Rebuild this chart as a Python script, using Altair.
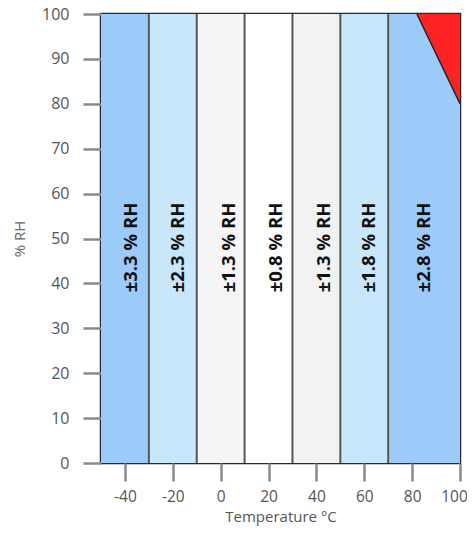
import altair as alt
import pandas as pd

# Accuracy bands (temperature range, °C) and their RH accuracy labels
band_start = [-50, -30, -10, 10, 30, 50, 70]
band_end = [-30, -10, 10, 30, 50, 70, 100]
band_label = ["±3.3 % RH", "±2.3 % RH", "±1.3 % RH", "±0.8 % RH", "±1.3 % RH", "±1.8 % RH", "±2.8 % RH"]
band_color = ["#9ccbfa", "#c9e7fb", "#f5f5f5", "#ffffff", "#f2f2f2", "#c9e7fb", "#9ccbfa"]
label_temp = [-37.5, -18, 3.5, 23, 43, 62, 85]
label_rh = [48, 48, 48, 48, 48, 48, 48]

# Out-of-spec corner (red triangle)
red_temp = [82, 100]
red_rh = [100, 80]

x_ticks = [-40, -20, 0, 20, 40, 60, 80, 100]
y_ticks = [0, 10, 20, 30, 40, 50, 60, 70, 80, 90, 100]

bands = pd.DataFrame({
    "t0": band_start, "t1": band_end, "label": band_label,
    "color": band_color, "lt": label_temp, "lr": label_rh,
    "rh0": [0] * 7, "rh1": [100] * 7,
})
seps = pd.DataFrame({"t": band_start[1:], "rh0": [0] * 6, "rh1": [100] * 6})
red = pd.DataFrame({"t": red_temp, "rh": red_rh, "top": [100, 100]})

xs = alt.Scale(domain=[-50, 100], nice=False, zero=False)
ys = alt.Scale(domain=[0, 100], nice=False, zero=False)

font = "Open Sans"

rects = alt.Chart(bands).mark_rect(stroke=None).encode(
    x=alt.X("t0:Q", scale=xs, axis=alt.Axis(
        values=x_ticks, title="Temperature °C", grid=False, domain=False,
        labelExpr="toString(datum.value)",
        labelOffset=alt.condition("datum.value == 100", alt.value(-6), alt.value(0)),
        tickSize=18, tickWidth=2.5, tickColor="#8a8a8a",
        labelPadding=8, labelFontSize=15.5, labelColor="#555555", labelFont=font,
        titleFontSize=15, titleFont=font, titleColor="#555555",
        titleFontWeight="normal", titlePadding=5, labelFlush=False)),
    x2="t1:Q",
    y=alt.Y("rh0:Q", scale=ys, axis=alt.Axis(
        values=y_ticks, title="% RH", grid=False, domain=False,
        tickSize=18, tickWidth=2.5, tickColor="#8a8a8a",
        labelPadding=14, labelFontSize=16, labelColor="#555555", labelFont=font,
        titleFontSize=15, titleFont=font, titleColor="#666666",
        titleFontWeight="normal", titlePadding=14)),
    y2="rh1:Q",
    color=alt.Color("color:N", scale=None),
)

sep_rules = alt.Chart(seps).mark_rule(color="#555555", strokeWidth=2).encode(
    x=alt.X("t:Q", scale=xs), y=alt.Y("rh0:Q", scale=ys), y2="rh1:Q")

red_area = alt.Chart(red).mark_area(color="#ff2222", opacity=1).encode(
    x=alt.X("t:Q", scale=xs), y=alt.Y("rh:Q", scale=ys), y2="top:Q")

red_edge = alt.Chart(red).mark_line(color="#222222", strokeWidth=1.5).encode(
    x=alt.X("t:Q", scale=xs), y=alt.Y("rh:Q", scale=ys))

texts = alt.Chart(bands).mark_text(
    angle=270, fontSize=18.5, fontWeight="bold", font=font, color="#111111",
    align="center", baseline="middle").encode(
    x=alt.X("lt:Q", scale=xs), y=alt.Y("lr:Q", scale=ys), text="label:N")

chart = alt.layer(rects, sep_rules, red_area, red_edge, texts).properties(
    width=359, height=449,
    autosize=alt.AutoSizeParams(type="none"),
    padding={"left": 93, "top": 6, "right": 7, "bottom": 63},
).configure_view(stroke="#2a2a2a", strokeWidth=2.5)

chart.save("out.html", embed_options={"renderer": "svg", "actions": False})
